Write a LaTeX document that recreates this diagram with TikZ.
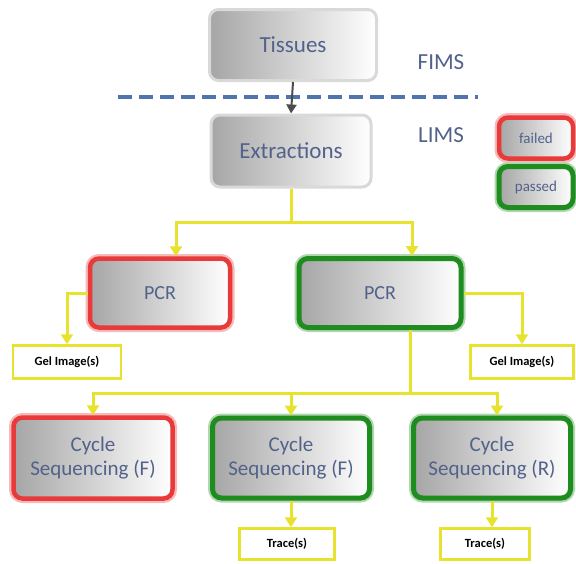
\documentclass[tikz,border=0pt]{standalone}
\usepackage{fontspec}
\setmainfont{Carlito}
\usetikzlibrary{arrows.meta}
\definecolor{labelblue}{HTML}{52628A}
\definecolor{failred}{HTML}{E83A3A}
\definecolor{passgreen}{HTML}{1E8C1E}
\definecolor{flowyellow}{HTML}{E6E22E}
\definecolor{dashblue}{HTML}{4F74AE}
\begin{document}
\begin{tikzpicture}[x=1pt,y=-1pt,
  stage/.style={rounded corners=9pt, left color=gray!70, right color=white,
    text=labelblue, font=\fontsize{21}{24}\selectfont, align=center, inner sep=0pt},
  plainbox/.style={stage, draw=gray!30, line width=3pt},
  failbox/.style={stage, draw=failred, line width=4.5pt,
    preaction={draw=failred!35, line width=9pt}},
  passbox/.style={stage, draw=passgreen, line width=5pt,
    preaction={draw=passgreen!35, line width=9pt}},
  outbox/.style={draw=flowyellow, line width=2.5pt, fill=white,
    font=\fontsize{12.5}{14}\selectfont\bfseries, inner sep=0pt},
  flow/.style={flowyellow, line width=3pt, -{Triangle[length=10pt,width=12pt]}},
  tag/.style={text=labelblue, font=\fontsize{23}{26}\selectfont}]
\useasboundingbox (0,0) rectangle (576,563);
% top stages
\node[plainbox, minimum width=167pt, minimum height=71pt, font=\fontsize{23}{26}\selectfont] (tissues) at (293,45) {Tissues};
\node[plainbox, minimum width=160pt, minimum height=72pt, font=\fontsize{23}{26}\selectfont] (extract) at (291,151) {Extractions};
\node[tag] (fims) at (441,62) {FIMS};
\node[tag] (lims) at (441,135) {LIMS};
\draw[dashblue, line width=4pt, dash pattern=on 14pt off 7pt] (118,97) -- (478,97);
% legend
\node[failbox, minimum width=74pt, minimum height=41pt, font=\fontsize{15}{17}\selectfont] (legfail) at (536,138) {failed};
\node[passbox, minimum width=74pt, minimum height=41pt, font=\fontsize{15}{17}\selectfont] (legpass) at (536,187) {passed};
% PCR
\node[failbox, minimum width=140pt, minimum height=69pt, font=\fontsize{20}{23}\selectfont] (pcrF) at (160,293) {PCR};
\node[passbox, minimum width=162pt, minimum height=69pt, font=\fontsize{20}{23}\selectfont] (pcrP) at (380,293) {PCR};
\node[outbox, minimum width=108pt, minimum height=33pt] (gelF) at (67,362) {Gel Image(s)};
\node[outbox, minimum width=103pt, minimum height=33pt] (gelP) at (522,362) {Gel Image(s)};
% cycle sequencing
\node[failbox, minimum width=159pt, minimum height=81pt] (seqF) at (93,458) {Cycle\\Sequencing (F)};
\node[passbox, minimum width=157pt, minimum height=80pt] (seqP) at (291,458) {Cycle\\Sequencing (F)};
\node[passbox, minimum width=157pt, minimum height=80pt] (seqR) at (492,458) {Cycle\\Sequencing (R)};
\node[outbox, minimum width=95pt, minimum height=31pt] (traceP) at (287,544) {Trace(s)};
\node[outbox, minimum width=89pt, minimum height=31pt] (traceR) at (485,544) {Trace(s)};
% connectors
\draw[gray!60!black, line width=2pt, -{Triangle[length=9pt,width=10pt]}] (tissues.south) -- (extract.north);
\coordinate (fork1) at (291,222);
\draw[flowyellow, line width=3pt] (extract.south) -- (fork1);
\draw[flow] (fork1) -| ([xshift=16pt]pcrF.north);
\draw[flow] (fork1) -| ([xshift=32pt]pcrP.north);
\draw[flow] (pcrF.west) -| (gelF.north);
\draw[flow] (pcrP.east) -| (gelP.north);
\coordinate (fork2) at (410,393);
\draw[flowyellow, line width=3pt] ([xshift=30pt]pcrP.south) -- (fork2);
\draw[flow] (fork2) -| (seqF.north);
\draw[flow] (fork2) -| (seqP.north);
\draw[flow] (fork2) -| ([xshift=5pt]seqR.north);
\draw[flow] (seqP.south) -- (seqP.south |- traceP.north);
\draw[flow] (seqR.south) -- (seqR.south |- traceR.north);
\end{tikzpicture}
\end{document}
